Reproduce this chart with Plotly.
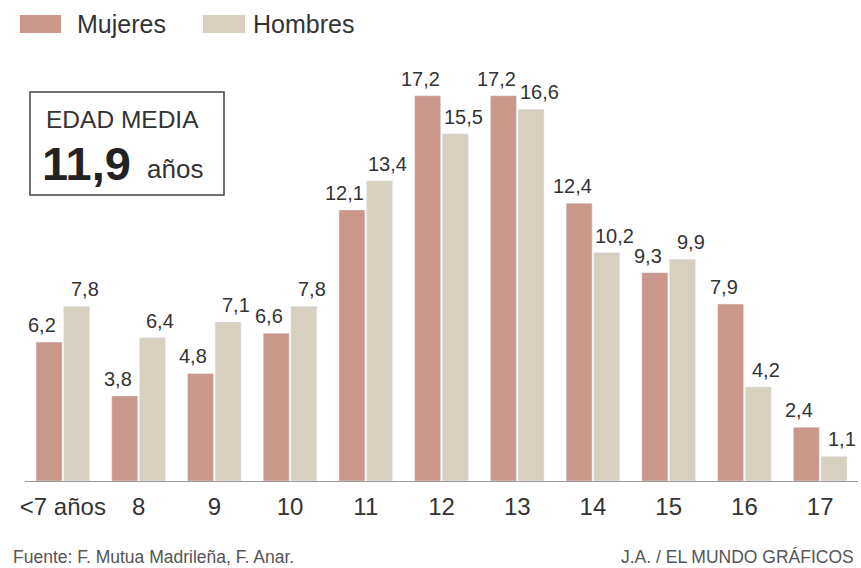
import plotly.graph_objects as go

categories = ["<7 años", "8", "9", "10", "11", "12", "13", "14", "15", "16", "17"]
mujeres = [6.2, 3.8, 4.8, 6.6, 12.1, 17.2, 17.2, 12.4, 9.3, 7.9, 2.4]
hombres = [7.8, 6.4, 7.1, 7.8, 13.4, 15.5, 16.6, 10.2, 9.9, 4.2, 1.1]

C_M = "#CA978B"
C_H = "#D7D0C0"
TXT = "#333333"
FONT = "Liberation Sans, Arial, sans-serif"

W, H = 861, 568
L, R, T, B = 25, 3, 33, 87
PW, PH = W - L - R, H - T - B
BARGAP = 0.27
BARGROUPGAP = 0.06

def px(x):
    return (x - L) / PW

def py(y):
    return (H - B - y) / PH

def fmt(v):
    return f"{v:.1f}".replace(".", ",")

fig = go.Figure()
fig.add_trace(go.Bar(x=categories, y=mujeres, name="Mujeres", marker_color=C_M))
fig.add_trace(go.Bar(x=categories, y=hombres, name="Hombres", marker_color=C_H))

fig.update_layout(
    width=W, height=H, margin=dict(l=L, r=R, t=T, b=B),
    paper_bgcolor="white", plot_bgcolor="white",
    barmode="group", bargap=BARGAP, bargroupgap=BARGROUPGAP,
    showlegend=False,
    font=dict(family=FONT, color=TXT),
    xaxis=dict(type="category", showline=True, linecolor="#9a9a9a", linewidth=1,
               ticks="outside", ticklen=4, tickcolor="rgba(0,0,0,0)",
               tickfont=dict(size=24, family=FONT, color=TXT),
               range=[-0.5, 10.5]),
    yaxis=dict(visible=False, range=[0, 20]),
)

shapes = [
    dict(type="rect", xref="paper", yref="paper", x0=px(20), x1=px(61), y0=py(33), y1=py(15),
         fillcolor=C_M, line=dict(width=0)),
    dict(type="rect", xref="paper", yref="paper", x0=px(203), x1=px(245), y0=py(33), y1=py(15),
         fillcolor=C_H, line=dict(width=0)),
    dict(type="rect", xref="paper", yref="paper", x0=px(30), x1=px(224), y0=py(195), y1=py(92),
         fillcolor="rgba(0,0,0,0)", line=dict(color="#444444", width=1.5)),
]
fig.update_layout(shapes=shapes)

ann = [
    dict(text="Mujeres", x=px(75), y=py(24), xanchor="left", yanchor="middle", font=dict(size=25, color=TXT)),
    dict(text="Hombres", x=px(251), y=py(24), xanchor="left", yanchor="middle", font=dict(size=25, color=TXT)),
    dict(text="EDAD MEDIA", x=px(44), y=py(119), xanchor="left", yanchor="middle", font=dict(size=24.5, color=TXT)),
    dict(text="<b>11,9</b>", x=px(40), y=py(163), xanchor="left", yanchor="middle", font=dict(size=47, color="#222222")),
    dict(text="años", x=px(145), y=py(169), xanchor="left", yanchor="middle", font=dict(size=26, color=TXT)),
    dict(text="Fuente: F. Mutua Madrileña, F. Anar.", x=px(11), y=py(557), xanchor="left", yanchor="middle",
         font=dict(size=17.5, color="#555555", family=FONT)),
    dict(text="J.A. / EL MUNDO GRÁFICOS", x=px(856), y=py(557), xanchor="right", yanchor="middle",
         font=dict(size=17.5, color="#555555", family=FONT)),
]
for a in ann:
    a.update(xref="paper", yref="paper", showarrow=False)

# value labels anchored to the bars via data coordinates (category index); offset derived from bar layout
group_px = PW / len(categories)
slot_px = group_px * (1 - BARGAP) / 2
for vals, sign, nudge in [(mujeres, -1, -7), (hombres, 1, 8)]:
    for i, v in enumerate(vals):
        ann.append(dict(text=fmt(v), x=i, y=v, xref="x", yref="y", showarrow=False,
                        xanchor="center", yanchor="bottom",
                        xshift=sign * slot_px / 2 + nudge, yshift=4,
                        font=dict(size=20, color=TXT)))

fig.update_layout(annotations=ann)

fig.write_html("out.html")
